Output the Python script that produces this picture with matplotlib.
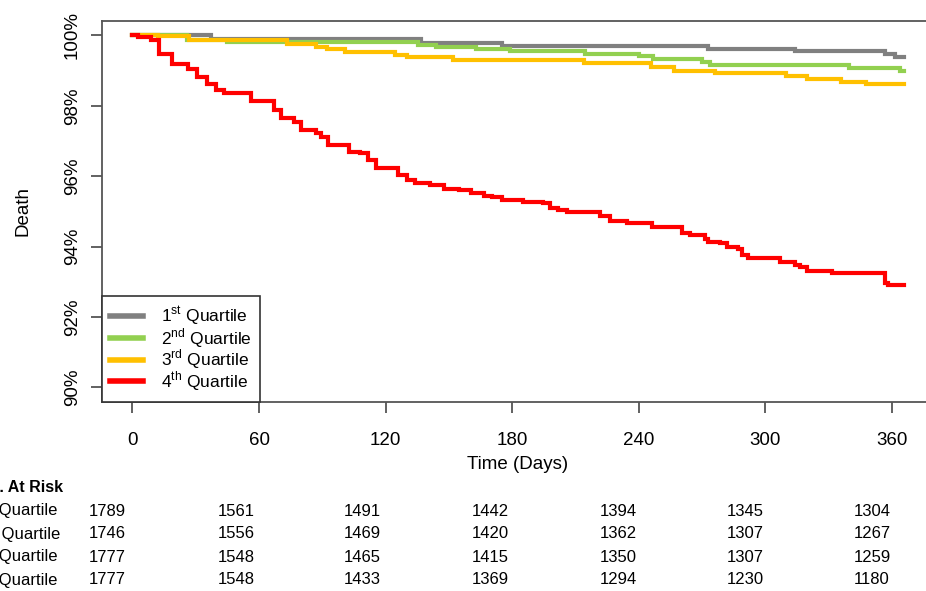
import numpy as np
import matplotlib
matplotlib.use("Agg")
from matplotlib import pyplot as plt

plt.rcParams['font.family'] = ['Liberation Sans', 'DejaVu Sans']

# step curves (day, % event-free)
q1_days = [0, 37, 137, 175, 273, 314, 357, 361.5, 366]
q1_pct = [100, 99.91, 99.77, 99.70, 99.60, 99.55, 99.46, 99.38, 99.38]

q2_days = [0, 26, 45, 135.6, 143.7, 163, 179, 214.7, 240, 247, 270, 274, 340, 364, 366]
q2_pct = [100, 99.88, 99.82, 99.74, 99.67, 99.60, 99.55, 99.48, 99.41, 99.34, 99.24, 99.17, 99.08, 99.0, 99.0]

q3_days = [0, 12, 26.7, 73.5, 86.8, 92.4, 101, 124.7, 130, 152, 214, 246, 257, 276, 310, 320, 336, 348, 366]
q3_pct = [100, 99.97, 99.88, 99.76, 99.67, 99.60, 99.53, 99.45, 99.38, 99.31, 99.21, 99.10, 99.0, 98.94, 98.86, 98.75, 98.67, 98.63, 98.63]

q4_days = [0, 2.4, 8.7, 12.6, 18.9, 26.1, 30.8, 35.5, 39.5, 43.4,
           56, 66.9, 70.3, 76.4, 79.7, 86.8, 89.2, 92.5, 102.5, 108,
           111.5, 115.3, 125.7, 130.4, 134.2, 141.3, 147.5, 154.6, 160.3, 166.5,
           170.7, 175.4, 185, 194.9, 198.2, 202, 206.2, 221.9, 226.6, 234.7,
           246.5, 260.7, 264.5, 271.6, 273, 278.7, 282, 287.2, 289.1, 292,
           307.1, 314.2, 316.6, 319.9, 331.7, 356.8, 358.3, 366]
q4_pct = [100, 99.95, 99.86, 99.48, 99.20, 99.05, 98.82, 98.63, 98.44, 98.36,
          98.15, 97.87, 97.64, 97.53, 97.30, 97.24, 97.10, 96.88, 96.68, 96.65,
          96.45, 96.22, 96.02, 95.88, 95.80, 95.74, 95.65, 95.60, 95.51, 95.45,
          95.40, 95.33, 95.28, 95.23, 95.11, 95.03, 94.97, 94.86, 94.74, 94.66,
          94.55, 94.40, 94.32, 94.23, 94.12, 94.09, 93.98, 93.92, 93.75, 93.69,
          93.55, 93.47, 93.41, 93.32, 93.24, 92.98, 92.90, 92.90]

labels = ["1$^{\\mathregular{st}}$ Quartile", "2$^{\\mathregular{nd}}$ Quartile",
          "3$^{\\mathregular{rd}}$ Quartile", "4$^{\\mathregular{th}}$ Quartile"]
colors = ["#808080", "#92d050", "#ffc000", "#ff0000"]

xticks = [0, 60, 120, 180, 240, 300, 360]
yticks = [90, 92, 94, 96, 98, 100]

# numbers at risk
risk_labels = ["1st Quartile", "2nd Quartile", "3rd Quartile", "4th Quartile"]
risk = [[1789, 1561, 1491, 1442, 1394, 1345, 1304],
        [1746, 1556, 1469, 1420, 1362, 1307, 1267],
        [1777, 1548, 1465, 1415, 1350, 1307, 1259],
        [1777, 1548, 1433, 1369, 1294, 1230, 1180]]

W, H = 926, 591
fig = plt.figure(figsize=(W / 100, H / 100), dpi=100)
ax = fig.add_axes([101.7 / W, 1 - 401.5 / H, (933 - 101.7) / W, (401.5 - 21.3) / H])

curves = [(q1_days, q1_pct), (q2_days, q2_pct), (q3_days, q3_pct), (q4_days, q4_pct)]
for (d, p), c, lab in zip(curves, colors, labels):
    ax.step(d, p, where="post", color=c, lw=3, label=lab, solid_joinstyle="miter")

ax.set_xlim(-14.6, 379.6)
ax.set_ylim(89.6, 100.4)
ax.set_xticks(xticks)
ax.set_yticks(yticks)
ax.set_yticklabels([f"{v}%" for v in yticks], rotation=90, va="center")

for s in ax.spines.values():
    s.set_color("#555555")
    s.set_linewidth(1.3)
ax.tick_params(axis="both", direction="out", length=8, width=1.3, color="#555555", labelsize=13.5)
ax.tick_params(axis="x", pad=14)
ax.tick_params(axis="y", pad=7)

ax.set_xlabel("Time (Days)", fontsize=13.5, labelpad=5)
fig.text(23 / W, 1 - 211 / H, "Death", rotation=90, fontsize=13.5, ha="center", va="center")

leg = ax.legend(loc="lower left", bbox_to_anchor=(0, 0), borderaxespad=0, fancybox=False,
                framealpha=1, edgecolor="#333333", fontsize=12.5, handlelength=1.9,
                handletextpad=1.0, labelspacing=-0.12, borderpad=0.5)
leg.get_frame().set_linewidth(1.2)
for h in leg.get_lines():
    h.set_linewidth(4)

# table under the chart, cut at the left like the source image
col_x = [107, 236, 362, 490, 618, 745, 872]
row_y = [511, 534, 557, 580]
fig.text(63 / W, 1 - 488 / H, "No. At Risk", fontsize=11.5, fontweight="bold", ha="right", va="center")
label_right = [57, 60, 57, 57]
for r, (lab, vals) in enumerate(zip(risk_labels, risk)):
    fig.text(label_right[r] / W, 1 - row_y[r] / H, lab, fontsize=12, ha="right", va="center")
    for x, v in zip(col_x, vals):
        fig.text(x / W, 1 - row_y[r] / H, str(v), fontsize=12, ha="center", va="center")

fig.savefig("out.png", dpi=100)
